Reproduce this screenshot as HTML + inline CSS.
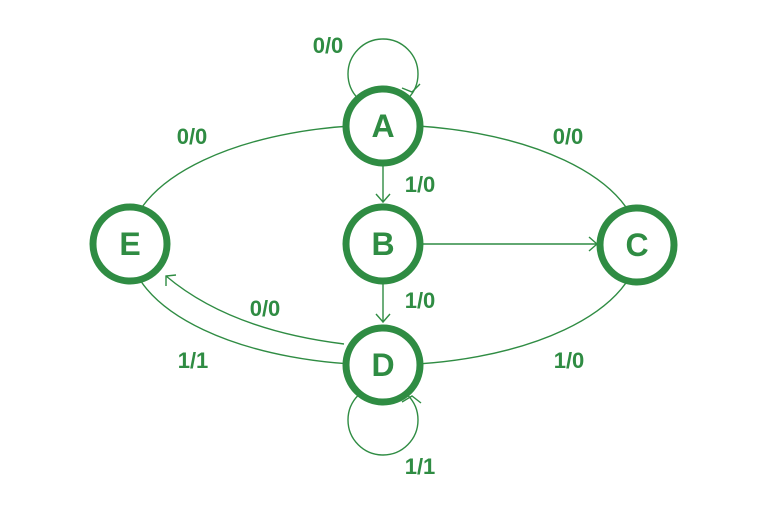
<!DOCTYPE html>
<html><head><style>
html,body{margin:0;padding:0;background:#fff;width:768px;height:514px;overflow:hidden}
svg text{font-family:"Liberation Sans",sans-serif;fill:#2f8c43}
</style></head><body>
<svg width="768" height="514" viewBox="0 0 768 514" xmlns="http://www.w3.org/2000/svg">
<g fill="none" stroke="#2f8c43" stroke-width="1.4">
<ellipse cx="384" cy="245" rx="255" ry="120"/>
<circle cx="383" cy="74" r="35"/>
<circle cx="383" cy="420" r="35"/>
<line x1="383" y1="164" x2="383" y2="202"/>
<polyline points="376,194 383,202 390,194"/>
<line x1="383" y1="283" x2="383" y2="322"/>
<polyline points="376,314 383,322 390,314"/>
<line x1="422" y1="244" x2="597" y2="244"/>
<polyline points="589,237 597,244 589,251"/>
<path d="M344,344 Q230,330 166,276"/>
<polyline points="166,286 166,276 176,275"/>
<polyline points="402,88 412,92 420,84"/>
<polyline points="402,402 412,396 421,403"/>
</g>
<g fill="#fff" stroke="#2f8c43" stroke-width="7">
<circle cx="383" cy="126" r="37"/>
<circle cx="383" cy="244" r="37"/>
<circle cx="637" cy="245" r="37"/>
<circle cx="130" cy="244" r="37"/>
<circle cx="383" cy="365" r="37"/>
</g>
<g font-size="32" text-anchor="middle" font-weight="bold">
<text x="383" y="137">A</text>
<text x="383" y="255">B</text>
<text x="637" y="256">C</text>
<text x="130" y="255">E</text>
<text x="383" y="376">D</text>
</g>
<g font-size="22" font-weight="bold" text-anchor="middle">
<text x="328" y="53">0/0</text>
<text x="192" y="144">0/0</text>
<text x="568" y="144">0/0</text>
<text x="420" y="192">1/0</text>
<text x="420" y="308">1/0</text>
<text x="265" y="316">0/0</text>
<text x="193" y="368">1/1</text>
<text x="569" y="368">1/0</text>
<text x="420" y="474">1/1</text>
</g>
</svg>
</body></html>
